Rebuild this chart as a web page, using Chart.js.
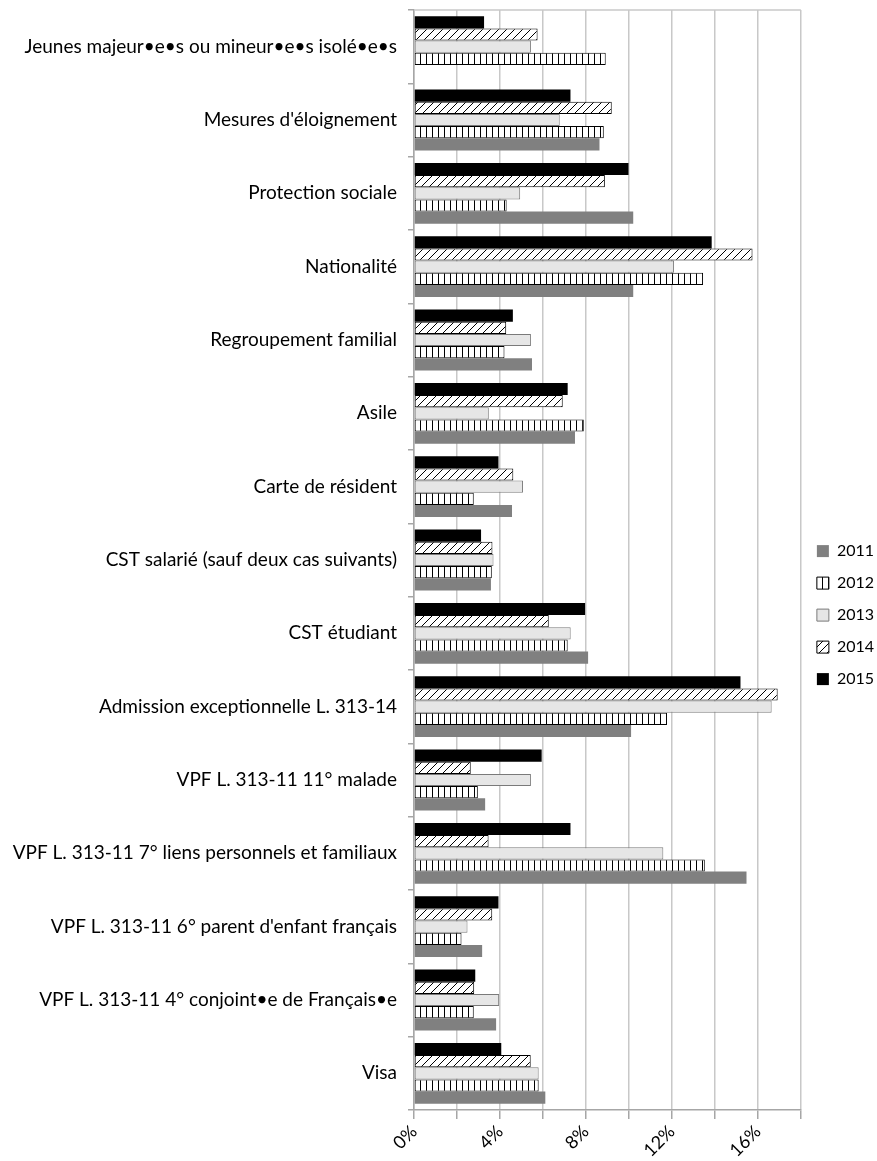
<!DOCTYPE html>
<html>
<head>
<meta charset="utf-8">
<script src="https://cdn.jsdelivr.net/npm/chart.js@4"></script>
<style>
  html, body { margin: 0; padding: 0; background: #fff; }
  #wrap { width: 877px; height: 1161px; }
</style>
</head>
<body>
<div id="wrap"><canvas id="chart"></canvas></div>
<script>
// categories, top to bottom
const categories = [
  "Jeunes majeur•e•s ou mineur•e•s isolé•e•s",
  "Mesures d'éloignement",
  "Protection sociale",
  "Nationalité",
  "Regroupement familial",
  "Asile",
  "Carte de résident",
  "CST salarié (sauf deux cas suivants)",
  "CST étudiant",
  "Admission exceptionnelle L. 313-14",
  "VPF L. 313-11 11° malade",
  "VPF L. 313-11 7° liens personnels et familiaux",
  "VPF L. 313-11 6° parent d'enfant français",
  "VPF L. 313-11 4° conjoint•e de Français•e",
  "Visa"
];

// values in %
const v2011 = [null, 8.63, 10.2, 10.2, 5.49, 7.49, 4.56, 3.58, 8.1, 10.1, 3.31, 15.47, 3.17, 3.82, 6.11];
const v2012 = [8.92, 8.83, 4.31, 13.45, 4.21, 7.9, 2.78, 3.62, 7.15, 11.77, 2.97, 13.53, 2.21, 2.78, 5.8];
const v2013 = [5.44, 6.78, 4.94, 12.1, 5.44, 3.48, 5.07, 3.7, 7.29, 16.64, 5.44, 11.6, 2.49, 3.96, 5.8];
const v2014 = [5.75, 9.2, 8.88, 15.75, 4.29, 6.92, 4.62, 3.65, 6.27, 16.92, 2.64, 3.47, 3.64, 2.8, 5.43];
const v2015 = [3.26, 7.28, 9.98, 13.85, 4.6, 7.15, 3.93, 3.12, 7.96, 15.19, 5.94, 7.28, 3.93, 2.85, 4.06];

// axis
const X_MIN = 0;
const X_MAX = 18;
const X_STEP = 2;

const FONT = "Lato, 'Open Sans', sans-serif";

// patterns
function hatchPattern() {
  const c = document.createElement("canvas");
  c.width = 8; c.height = 8;
  const g = c.getContext("2d");
  g.fillStyle = "#fff";
  g.fillRect(0, 0, 8, 8);
  g.strokeStyle = "#000";
  g.lineWidth = 1;
  g.beginPath();
  g.moveTo(0, 8); g.lineTo(8, 0);
  g.moveTo(-1, 1); g.lineTo(1, -1);
  g.moveTo(7, 9); g.lineTo(9, 7);
  g.stroke();
  return g.createPattern(c, "repeat");
}

function stripePattern() {
  const c = document.createElement("canvas");
  c.width = 6; c.height = 6;
  const g = c.getContext("2d");
  g.fillStyle = "#fff";
  g.fillRect(0, 0, 6, 6);
  g.fillStyle = "#000";
  g.fillRect(0, 0, 1, 6);
  return g.createPattern(c, "repeat");
}

const HATCH = hatchPattern();
const STRIPE = stripePattern();

function ds(label, data, bg, border, bw) {
  return {
    label: label,
    data: data,
    backgroundColor: bg,
    borderColor: border,
    borderWidth: bw,
    borderSkipped: false,
    categoryPercentage: 0.83,
    barPercentage: 1
  };
}

// top edge of the plot area
const topLine = {
  id: "topLine",
  beforeDatasetsDraw(chart) {
    const a = chart.chartArea;
    const g = chart.ctx;
    g.save();
    g.strokeStyle = "#c8c8c8";
    g.lineWidth = 1.5;
    g.beginPath();
    g.moveTo(a.left, a.top);
    g.lineTo(a.right, a.top);
    g.stroke();
    g.restore();
  }
};

const ctx = document.getElementById("chart").getContext("2d");

new Chart(ctx, {
  type: "bar",
  data: {
    labels: categories,
    datasets: [
      ds("2015", v2015, "#000000", "#000000", 0),
      ds("2014", v2014, HATCH, "#000000", 1),
      ds("2013", v2013, "#e6e6e6", "#7a7a7a", 1),
      ds("2012", v2012, STRIPE, "#000000", 1),
      ds("2011", v2011, "#808080", "#808080", 0)
    ]
  },
  plugins: [topLine],
  options: {
    indexAxis: "y",
    responsive: true,
    maintainAspectRatio: false,
    animation: false,
    layout: { padding: { top: 10, left: 0, right: -7, bottom: 0 } },
    plugins: {
      tooltip: { enabled: false },
      legend: {
        position: "right",
        align: "center",
        reverse: true,
        title: {
          display: true,
          text: " ",
          font: { family: FONT, size: 16 },
          padding: { top: 40, bottom: 0 }
        },
        labels: {
          color: "#000",
          font: { family: FONT, size: 16 },
          boxWidth: 12,
          boxHeight: 12,
          padding: 16
        }
      }
    },
    scales: {
      x: {
        min: X_MIN,
        max: X_MAX,
        afterFit: (s) => { s.height = 51; },
        ticks: {
          stepSize: X_STEP,
          autoSkip: false,
          minRotation: 45,
          maxRotation: 45,
          color: "#000",
          font: { family: FONT, size: 18 },
          padding: 2,
          callback: (v) => (v % 4 === 0 ? v + "%" : "")
        },
        grid: {
          color: "#c8c8c8",
          lineWidth: 1.5,
          tickColor: "#a6a6a6",
          tickLength: 9
        },
        border: { color: "#a6a6a6", width: 1.5 }
      },
      y: {
        afterFit: (s) => { s.width = 414; s.paddingTop = 0; s.paddingBottom = 0; },
        ticks: {
          color: "#000",
          font: { family: FONT, size: 19 },
          padding: 11
        },
        grid: {
          drawOnChartArea: false,
          tickColor: "#a6a6a6",
          tickLength: 6,
          lineWidth: 1.5
        },
        border: { color: "#a6a6a6", width: 1.5 }
      }
    }
  }
});
</script>
</body>
</html>
